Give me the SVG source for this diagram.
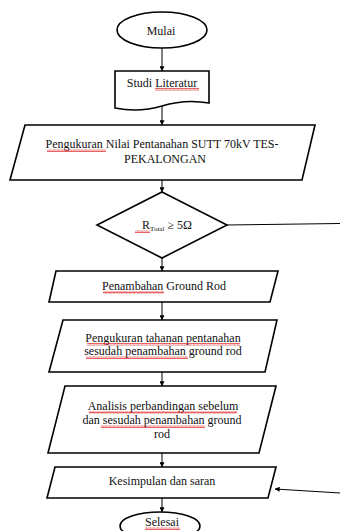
<svg xmlns="http://www.w3.org/2000/svg" width="340" height="531" viewBox="0 0 340 531">
<style>
.shape{fill:#fff;stroke:#000;stroke-width:1.6;stroke-linejoin:miter}
.conn{fill:none;stroke:#000;stroke-width:1}
.t{font-family:'Liberation Serif','Times New Roman','DejaVu Serif',serif;font-size:12px;fill:#111;text-anchor:middle}
.sq{fill:url(#wave)}
</style>
<defs>
<marker id="ah" viewBox="0 0 8 8" refX="7.5" refY="4" markerWidth="5" markerHeight="5" orient="auto" markerUnits="userSpaceOnUse">
<path d="M0,0 L8,4 L0,8 Z" fill="#000"/>
</marker>
<pattern id="wave" x="0" y="0" width="4" height="3" patternUnits="userSpaceOnUse">
<path d="M0,2.5 L1,0.5 L2,2.5 L3,0.5 L4,2.5" fill="none" stroke="#e02020" stroke-width="0.7"/>
</pattern>
</defs>
<rect width="340" height="531" fill="#fff"/>
<g id="connectors">
<line class="conn" x1="162" y1="48" x2="162" y2="71" marker-end="url(#ah)"/>
<line class="conn" x1="162" y1="106" x2="162" y2="125" marker-end="url(#ah)"/>
<line class="conn" x1="162" y1="180" x2="162" y2="192" marker-end="url(#ah)"/>
<line class="conn" x1="162" y1="258" x2="162" y2="271" marker-end="url(#ah)"/>
<line class="conn" x1="162" y1="302" x2="162" y2="320" marker-end="url(#ah)"/>
<line class="conn" x1="162" y1="372" x2="162" y2="386" marker-end="url(#ah)"/>
<line class="conn" x1="162" y1="453" x2="162" y2="467" marker-end="url(#ah)"/>
<line class="conn" x1="162" y1="498" x2="162" y2="512" marker-end="url(#ah)"/>
<line class="conn" x1="227" y1="225" x2="340" y2="223.5"/>
<line class="conn" x1="340" y1="493" x2="275" y2="489" marker-end="url(#ah)"/>
</g>
<g id="mulai">
<ellipse class="shape" cx="162" cy="30" rx="45" ry="18"/>
<text class="t" x="161" y="35" font-family="Liberation Serif, serif">Mulai</text>
</g>
<g id="studi">
<path class="shape" d="M115,71 H209 V103 C192,100 178,101 162,106 C145,111 130,111 115,108 Z"/>
<text class="t" x="162" y="87">Studi Literatur</text>
<rect class="sq" x="155" y="88" width="44" height="3"/>
</g>
<g id="pengukuran1">
<polygon class="shape" points="25,125 315,125 302,180 10,180"/>
<text class="t" x="162" y="148">Pengukuran Nilai Pentanahan SUTT 70kV TES-</text>
<text class="t" x="165" y="163">PEKALONGAN</text>
<rect class="sq" x="47" y="149" width="59" height="3"/>
</g>
<g id="keputusan">
<polygon class="shape" points="162,192 227,225 162,258 97,225"/>
<text class="t" x="167" y="229">R<tspan font-size="7" dy="2">Total</tspan><tspan dy="-2"> ≥ 5Ω</tspan></text>
<rect class="sq" x="135" y="230" width="15" height="3"/>
</g>
<g id="penambahan">
<polygon class="shape" points="56,271 278,271 270,302 49,302"/>
<text class="t" x="164" y="290">Penambahan Ground Rod</text>
<rect class="sq" x="103" y="291" width="61" height="3"/>
</g>
<g id="pengukuran2">
<polygon class="shape" points="63,320 277,320 265,372 49,372"/>
<text class="t" x="163" y="342">Pengukuran tahanan pentanahan</text>
<text class="t" x="163" y="355">sesudah penambahan ground rod</text>
<rect class="sq" x="87" y="343" width="153" height="3"/>
<rect class="sq" x="86" y="356" width="102" height="3"/>
</g>
<g id="analisis">
<polygon class="shape" points="65,386 276,386 259,453 48,453"/>
<text class="t" x="163" y="410">Analisis perbandingan sebelum</text>
<text class="t" x="162" y="424">dan sesudah penambahan ground</text>
<text class="t" x="162" y="438">rod</text>
<rect class="sq" x="89" y="411" width="148" height="3"/>
<rect class="sq" x="101" y="425" width="104" height="3"/>
</g>
<g id="kesimpulan">
<polygon class="shape" points="55,467 276,467 268,498 47,498"/>
<text class="t" x="162" y="485">Kesimpulan dan saran</text>
</g>
<g id="selesai">
<ellipse class="shape" cx="160" cy="526" rx="40" ry="14"/>
<text class="t" x="162" y="526">Selesai</text>
<rect class="sq" x="145" y="527" width="35" height="3"/>
</g>
</svg>
